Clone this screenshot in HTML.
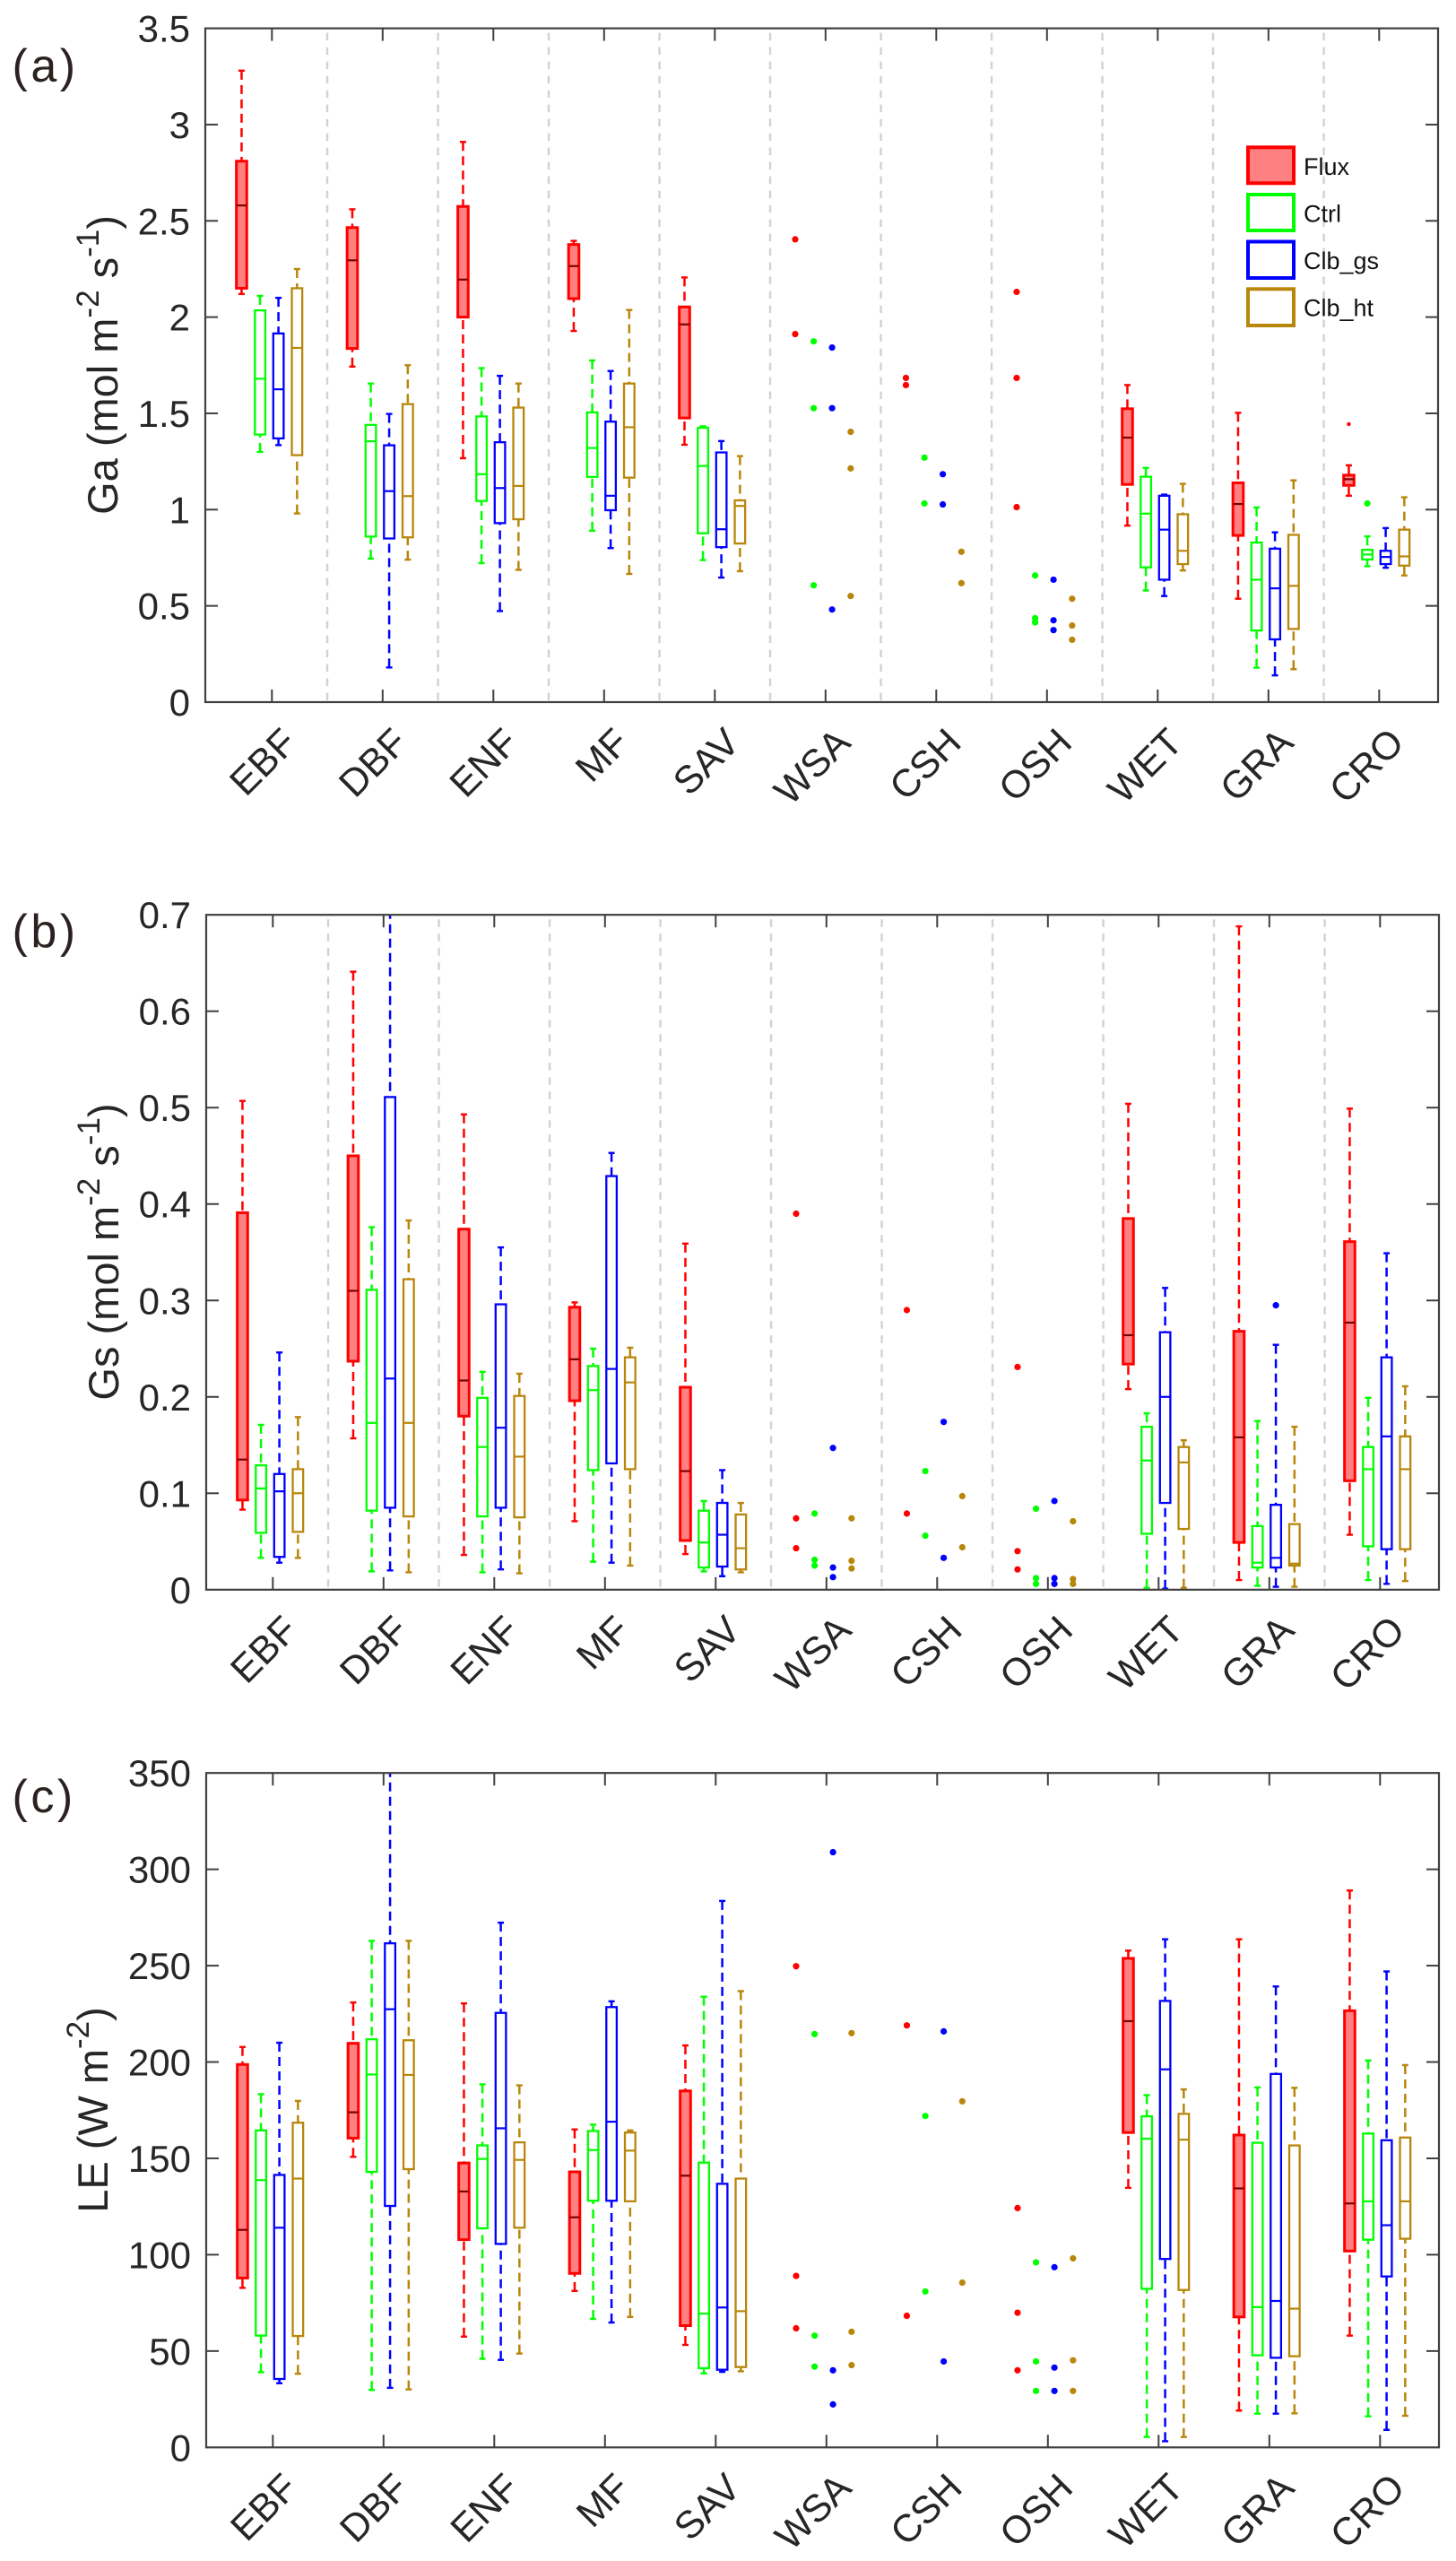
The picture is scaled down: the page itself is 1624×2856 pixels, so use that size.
<!DOCTYPE html>
<html lang="en">
<head>
<meta charset="utf-8">
<title>Ga, Gs and LE box plots by land cover type</title>
<style>
html,body{margin:0;padding:0;background:#fff;}
svg{display:block;font-family:"Liberation Sans",Arial,sans-serif;}
</style>
</head>
<body>
<svg id="figure" xmlns="http://www.w3.org/2000/svg" width="1624" height="2856" viewBox="0 0 1624 2856">
  <rect x="0" y="0" width="1624" height="2856" fill="#ffffff"/>

  <text x="13.5" y="91" font-size="52" letter-spacing="3.5" fill="#2b2220">(a)</text>
  <text x="13.5" y="1056" font-size="52" letter-spacing="3.5" fill="#2b2220">(b)</text>
  <text x="13.5" y="2021" font-size="52" letter-spacing="3.5" fill="#2b2220">(c)</text>

  <text transform="translate(131,407) rotate(-90)" text-anchor="middle" font-size="47" fill="#262626">Ga (mol m<tspan font-size="35" dy="-21">-2</tspan><tspan dy="21"> s</tspan><tspan font-size="35" dy="-21">-1</tspan><tspan dy="21">)</tspan></text>
  <text transform="translate(132,1396) rotate(-90)" text-anchor="middle" font-size="47" fill="#262626">Gs (mol m<tspan font-size="35" dy="-21">-2</tspan><tspan dy="21"> s</tspan><tspan font-size="35" dy="-21">-1</tspan><tspan dy="21">)</tspan></text>
  <text transform="translate(120,2353) rotate(-90)" text-anchor="middle" font-size="47" fill="#262626">LE (W m<tspan font-size="35" dy="-21">-2</tspan><tspan dy="21">)</tspan></text>

  <g id="panels"></g>

  <g>
    <rect x="1392" y="164.3" width="51" height="40" fill="#ff8080" stroke="#ff0000" stroke-width="4"/>
    <text x="1454" y="195" font-size="27" fill="#111111">Flux</text>
    <rect x="1392" y="217" width="51" height="40" fill="#ffffff" stroke="#00ff00" stroke-width="4"/>
    <text x="1454" y="247.5" font-size="27" fill="#111111">Ctrl</text>
    <rect x="1392" y="269.5" width="51" height="40.5" fill="#ffffff" stroke="#0000ff" stroke-width="4"/>
    <text x="1454" y="300" font-size="27" fill="#111111">Clb_gs</text>
    <rect x="1392" y="322.3" width="51" height="40.7" fill="#ffffff" stroke="#b8860b" stroke-width="4"/>
    <text x="1454" y="352.7" font-size="27" fill="#111111">Clb_ht</text>
  </g>
</svg>

<script>
const categories = ['EBF','DBF','ENF','MF','SAV','WSA','CSH','OSH','WET','GRA','CRO'];
const seriesNames = ['Flux','Ctrl','Clb_gs','Clb_ht'];

const gaTickValues = [0,0.5,1,1.5,2,2.5,3,3.5];
const gaTickLabels = ['0','0.5','1','1.5','2','2.5','3','3.5'];
const gsTickValues = [0,0.1,0.2,0.3,0.4,0.5,0.6,0.7];
const gsTickLabels = ['0','0.1','0.2','0.3','0.4','0.5','0.6','0.7'];
const leTickValues = [0,50,100,150,200,250,300,350];
const leTickLabels = ['0','50','100','150','200','250','300','350'];

/* Box values per category: [low whisker, Q1, median, Q3, high whisker] */
const gaFluxBoxes = [[2.12,2.15,2.58,2.81,3.28],[1.743,1.837,2.295,2.465,2.56],[1.267,2.0,2.195,2.575,2.91],[1.928,2.096,2.265,2.377,2.396],[1.337,1.476,1.962,2.053,2.206],null,null,null,[0.917,1.131,1.374,1.524,1.647],[0.537,0.866,1.029,1.139,1.503],[1.072,1.126,1.158,1.179,1.23]];
const gaCtrlBoxes = [[1.30,1.39,1.68,2.035,2.11],[0.746,0.86,1.355,1.44,1.655],[0.722,1.045,1.184,1.484,1.735],[0.89,1.17,1.32,1.505,1.775],[0.738,0.877,1.227,1.425,1.433],null,null,null,[0.58,0.70,0.979,1.171,1.217],[0.179,0.372,0.636,0.829,1.011],[0.706,0.741,0.767,0.791,0.861]];
const gaGsBoxes = [[1.335,1.37,1.625,1.915,2.10],[0.18,0.85,1.096,1.334,1.497],[0.473,0.93,1.112,1.35,1.695],[0.80,0.997,1.072,1.457,1.72],[0.647,0.805,0.898,1.297,1.356],null,null,null,[0.551,0.636,0.896,1.072,1.078],[0.139,0.326,0.591,0.797,0.882],[0.698,0.717,0.754,0.786,0.904]];
const gaHtBoxes = [[0.98,1.283,1.84,2.15,2.25],[0.74,0.856,1.07,1.548,1.75],[0.687,0.95,1.123,1.53,1.655],[0.666,1.166,1.428,1.655,2.037],[0.68,0.824,1.019,1.048,1.278],null,null,null,[0.684,0.717,0.786,0.976,1.134],[0.171,0.38,0.604,0.869,1.152],[0.658,0.709,0.757,0.896,1.064]];
/* Individual points per category */
const gaFluxPoints = [[],[],[],[],[],[2.404,1.912],[1.684,1.647],[2.131,1.684,1.013],[],[],[1.444]];
const gaCtrlPoints = [[],[],[],[],[],[1.874,1.527,0.607],[1.27,1.032],[0.658,0.436,0.414],[],[],[1.032]];
const gaGsPoints = [[],[],[],[],[],[1.842,1.527,0.481],[1.184,1.027],[0.636,0.425,0.374],[],[],[]];
const gaHtPoints = [[],[],[],[],[],[1.404,1.214,0.551],[0.781,0.618],[0.537,0.398,0.324],[],[],[]];

const gsFluxBoxes = [[0.083,0.093,0.135,0.391,0.507],[0.157,0.237,0.31,0.45,0.641],[0.036,0.18,0.217,0.374,0.493],[0.071,0.196,0.239,0.293,0.298],[0.037,0.051,0.123,0.21,0.359],null,null,null,[0.208,0.234,0.264,0.385,0.504],[0.01,0.049,0.158,0.268,0.688],[0.057,0.113,0.277,0.361,0.499]];
const gsCtrlBoxes = [[0.033,0.059,0.105,0.129,0.171],[0.019,0.082,0.173,0.311,0.376],[0.018,0.076,0.148,0.199,0.226],[0.029,0.124,0.207,0.232,0.25],[0.019,0.023,0.049,0.082,0.092],null,null,null,[0.002,0.058,0.134,0.169,0.183],[0.004,0.023,0.028,0.066,0.175],[0.01,0.045,0.125,0.148,0.199]];
const gsGsBoxes = [[0.028,0.034,0.102,0.12,0.246],[0.02,0.085,0.219,0.511,0.72],[0.021,0.085,0.168,0.296,0.355],[0.028,0.131,0.229,0.429,0.453],[0.014,0.024,0.057,0.09,0.124],null,null,null,[0.001,0.09,0.2,0.267,0.313],[0.003,0.023,0.033,0.088,0.254],[0.006,0.042,0.159,0.241,0.349]];
const gsHtBoxes = [[0.033,0.06,0.10,0.125,0.179],[0.018,0.076,0.173,0.322,0.383],[0.017,0.075,0.138,0.201,0.224],[0.025,0.125,0.215,0.241,0.251],[0.018,0.021,0.043,0.078,0.09],null,null,null,[0.002,0.063,0.132,0.148,0.155],[0.003,0.025,0.027,0.068,0.169],[0.009,0.042,0.125,0.159,0.211]];
const gsFluxPoints = [[],[],[],[],[],[0.39,0.074,0.043],[0.29,0.079],[0.231,0.04,0.021],[],[],[]];
const gsCtrlPoints = [[],[],[],[],[],[0.079,0.031,0.025],[0.123,0.056],[0.084,0.012,0.006],[],[],[]];
const gsGsPoints = [[],[],[],[],[],[0.147,0.023,0.013],[0.174,0.033],[0.092,0.012,0.006],[],[0.295],[]];
const gsHtPoints = [[],[],[],[],[],[0.074,0.03,0.022],[0.097,0.044],[0.071,0.011,0.006],[],[],[]];

const leFluxBoxes = [[82.8,87.9,112.9,198.7,207.8],[150.8,160.5,173.9,209.7,230.9],[57.5,107.8,132.8,147.6,230.4],[81.2,90.3,119.4,143,165],[53.2,63.2,141,185,208.6],null,null,null,[134.7,163.4,221.2,253.8,257.8],[19.1,67.7,134.4,162.1,263.7],[58,101.9,126.6,226.6,289]];
const leCtrlBoxes = [[39,58,138.7,164.5,183.3],[29.8,143,193.5,211.8,262.9],[46,113.7,149.7,156.7,188.4],[66.7,128,154.3,164.2,167.5],[38.4,41.1,69.4,147.8,233.9],null,null,null,[5.4,82.3,160.2,171.8,182.8],[17.5,47.8,72.8,158.1,186.8],[16.1,107.8,127.7,162.9,200.8]];
const leGsBoxes = [[33.3,35.5,114,141.4,210],[30.9,125.3,227.4,261.6,360],[45.4,105.6,165.6,225.5,272.3],[64.8,128,169,228.5,231.5],[39.2,40.3,72.6,136.8,283.6],null,null,null,[3.2,97.8,196.2,231.7,263.7],[17.5,46.5,76,193.8,239.2],[9.1,88.7,115.3,159.4,247]];
const leHtBoxes = [[38.2,57.8,139.5,168.5,179.8],[30.1,144.4,193.3,211.3,262.9],[48.7,114,149.2,158.3,187.9],[67.7,127.7,154,163.4,164.5],[39.5,41.7,70.7,139.5,236.8],null,null,null,[5.4,81.7,159.7,173.1,185.8],[17.7,47.3,72,156.7,186.6],[16.4,108.3,127.7,160.8,198.4]];
const leFluxPoints = [[],[],[],[],[],[249.7,89,61.8],[219,68.3],[124.2,69.9,40],[],[],[]];
const leCtrlPoints = [[],[],[],[],[],[214.5,58,41.9],[172,80.9],[96,44.6,29.3],[],[],[]];
const leGsPoints = [[],[],[],[],[],[308.9,40,22.3],[215.9,44.6],[93.5,41.4,29.3],[],[],[]];
const leHtPoints = [[],[],[],[],[],[215,60,42.7],[179.6,85.5],[98.1,45.2,29.3],[],[],[]];

const NS = 'http://www.w3.org/2000/svg';
const seriesColors = ['#ff0000','#00ff00','#0000ff','#b8860b'];
const axisColor = '#404040';
const textColor = '#262626';

function add(parent, tag, name, attrs) {
  const el = document.createElementNS(NS, tag);
  
  
  for (const key in attrs) el.setAttribute(key, attrs[key]);
  parent.appendChild(el);
  return el;
}

function slug(s) { return s.toLowerCase().replace(/_/g, '-'); }

function drawPanel(cfg) {
  const root = document.getElementById('panels');
  const g = add(root, 'g', 'panel-' + cfg.id, {});
  const xScale = function (v) { return cfg.x1 + (v - 1) * 123.5; };
  const yScale = function (v) { return cfg.bottom - (v / cfg.yMax) * (cfg.bottom - cfg.top); };
  const seriesOffset = [-0.274, -0.107, 0.059, 0.227];

  const clipId = 'clip-' + cfg.id;
  const defs = add(g, 'defs', 'clip-definitions', {});
  const clip = add(defs, 'clipPath', 'plot-clip', { id: clipId });
  add(clip, 'rect', 'plot-clip-area', { x: cfg.left, y: cfg.top, width: cfg.right - cfg.left, height: cfg.bottom - cfg.top });

  if (cfg.separators) {
    for (let i = 1; i < categories.length; i++) {
      add(g, 'line', 'category-separator', {
        x1: xScale(i + 0.5), x2: xScale(i + 0.5), y1: cfg.top + 5, y2: cfg.bottom,
        stroke: '#d2d2d2', 'stroke-width': 2.4, 'stroke-dasharray': '8.5 7.5'
      });
    }
  }

  const marks = add(g, 'g', 'plot-marks', { 'clip-path': 'url(#' + clipId + ')' });
  cfg.boxes.forEach(function (seriesBoxes, s) {
    const color = seriesColors[s];
    const isFlux = s === 0;
    const lw = isFlux ? 3 : 2.3;
    const sName = slug(seriesNames[s]);
    seriesBoxes.forEach(function (b, c) {
      const cName = slug(categories[c]);
      const cx = xScale(c + 1 + seriesOffset[s]);
      if (b) {
        const group = add(marks, 'g', 'box-' + sName + '-' + cName, {});
        const low = yScale(b[0]), q1 = yScale(b[1]), med = yScale(b[2]), q3 = yScale(b[3]), high = yScale(b[4]);
        add(group, 'line', 'upper-whisker', { x1: cx, x2: cx, y1: high, y2: q3, stroke: color, 'stroke-width': 2.5, 'stroke-dasharray': '10 6' });
        add(group, 'line', 'lower-whisker', { x1: cx, x2: cx, y1: low, y2: q1, stroke: color, 'stroke-width': 2.5, 'stroke-dasharray': '10 6' });
        add(group, 'line', 'upper-cap', { x1: cx - 3.5, x2: cx + 3.5, y1: high, y2: high, stroke: color, 'stroke-width': 2.4 });
        add(group, 'line', 'lower-cap', { x1: cx - 3.5, x2: cx + 3.5, y1: low, y2: low, stroke: color, 'stroke-width': 2.4 });
        add(group, 'rect', 'interquartile-box', {
          x: cx - 5.8, y: q3, width: 11.6, height: Math.max(q1 - q3, 0.5),
          fill: isFlux ? '#ff8080' : '#ffffff', stroke: color, 'stroke-width': lw
        });
        add(group, 'line', 'median-line', {
          x1: cx - 5.8, x2: cx + 5.8, y1: med, y2: med,
          stroke: isFlux ? '#800000' : color, 'stroke-width': 2.2
        });
      }
      const points = cfg.points[s][c];
      points.forEach(function (v) {
        const small = isFlux && b;
        add(marks, 'circle', 'point-' + sName + '-' + cName, {
          cx: cx, cy: yScale(v), r: small ? 2.2 : 3.6, fill: color
        });
      });
    });
  });

  add(g, 'rect', 'plot-frame', {
    x: cfg.left, y: cfg.top, width: cfg.right - cfg.left, height: cfg.bottom - cfg.top,
    fill: 'none', stroke: axisColor, 'stroke-width': 2.2
  });

  const ticksY = add(g, 'g', 'y-axis', {});
  cfg.tickValues.forEach(function (v, i) {
    const y = yScale(v);
    if (i > 0 && i < cfg.tickValues.length - 1) {
      add(ticksY, 'line', 'y-tick-left', { x1: cfg.left, x2: cfg.left + 14, y1: y, y2: y, stroke: axisColor, 'stroke-width': 2 });
      add(ticksY, 'line', 'y-tick-right', { x1: cfg.right, x2: cfg.right - 14, y1: y, y2: y, stroke: axisColor, 'stroke-width': 2 });
    }
    const t = add(ticksY, 'text', 'y-tick-label', {
      x: cfg.left - 17, y: y + 15, 'text-anchor': 'end', 'font-size': 42, fill: textColor
    });
    t.textContent = cfg.tickLabels[i];
  });

  const ticksX = add(g, 'g', 'x-axis', {});
  categories.forEach(function (name, c) {
    const x = xScale(c + 1);
    add(ticksX, 'line', 'x-tick-bottom', { x1: x, x2: x, y1: cfg.bottom, y2: cfg.bottom - 14, stroke: axisColor, 'stroke-width': 2 });
    add(ticksX, 'line', 'x-tick-top', { x1: x, x2: x, y1: cfg.top, y2: cfg.top + 14, stroke: axisColor, 'stroke-width': 2 });
    const px = x + 30, py = cfg.bottom + 47.5;
    const t = add(ticksX, 'text', 'x-tick-label-' + slug(name), {
      x: px, y: py, 'text-anchor': 'end', 'font-size': 43, fill: textColor,
      transform: 'rotate(-45 ' + px + ' ' + py + ')'
    });
    t.textContent = name;
  });
}

drawPanel({
  id: 'a', left: 229, right: 1604, top: 31.6, bottom: 783, x1: 303.3, yMax: 3.5, separators: true,
  tickValues: gaTickValues, tickLabels: gaTickLabels,
  boxes: [gaFluxBoxes, gaCtrlBoxes, gaGsBoxes, gaHtBoxes],
  points: [gaFluxPoints, gaCtrlPoints, gaGsPoints, gaHtPoints]
});
drawPanel({
  id: 'b', left: 230, right: 1605, top: 1020.2, bottom: 1772.8, x1: 304.3, yMax: 0.7, separators: true,
  tickValues: gsTickValues, tickLabels: gsTickLabels,
  boxes: [gsFluxBoxes, gsCtrlBoxes, gsGsBoxes, gsHtBoxes],
  points: [gsFluxPoints, gsCtrlPoints, gsGsPoints, gsHtPoints]
});
drawPanel({
  id: 'c', left: 230, right: 1605, top: 1977.2, bottom: 2729.3, x1: 304.3, yMax: 350, separators: false,
  tickValues: leTickValues, tickLabels: leTickLabels,
  boxes: [leFluxBoxes, leCtrlBoxes, leGsBoxes, leHtBoxes],
  points: [leFluxPoints, leCtrlPoints, leGsPoints, leHtPoints]
});
</script>
</body>
</html>
